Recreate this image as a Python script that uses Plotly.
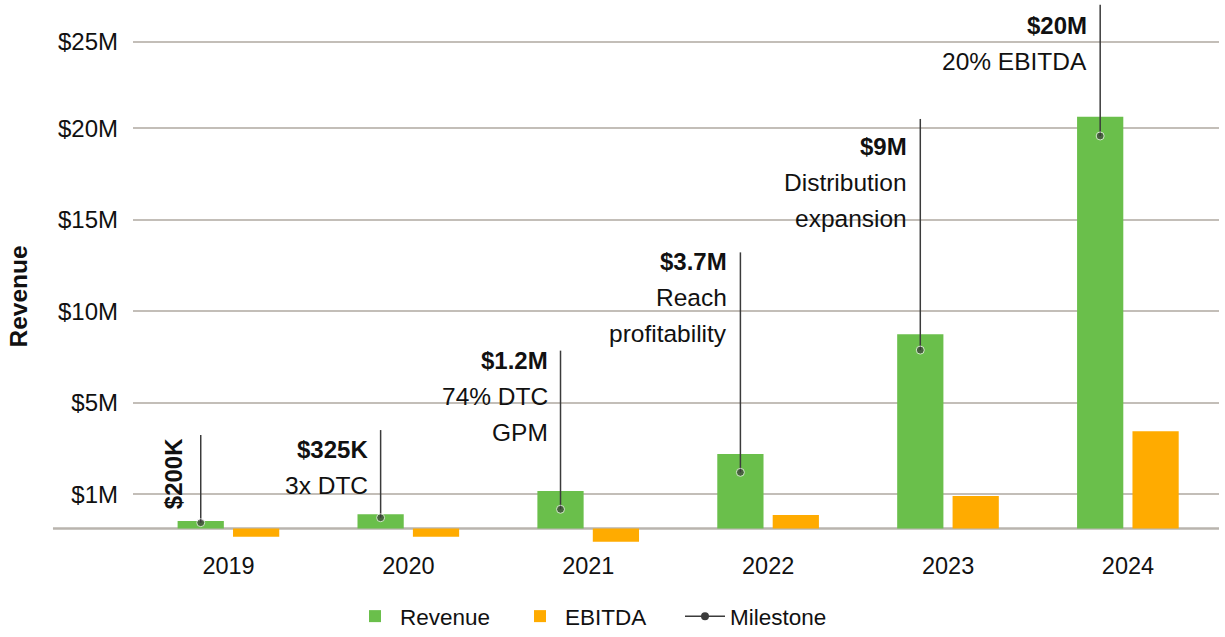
import plotly.graph_objects as go

# ---------------- data ----------------
years = [2019, 2020, 2021, 2022, 2023, 2024]
revenue = [0.41, 0.78, 2.05, 4.07, 10.61, 22.5]          # $M (bar heights)
ebitda = [-0.45, -0.45, -0.72, 0.74, 1.78, 5.31]          # $M
milestone_dot = [0.32, 0.59, 1.05, 3.07, 9.75, 21.45]     # $M (dot position)
milestone_top = [5.11, 5.38, 9.72, 15.09, 22.38, 28.62]   # $M (top of stem)
milestone_value = ["$200K", "$325K", "$1.2M", "$3.7M", "$9M", "$20M"]
milestone_text = [[], ["3x DTC"], ["74% DTC", "GPM"], ["Reach", "profitability"],
                  ["Distribution", "expansion"], ["20% EBITDA"]]
label_top = [2.98, 4.33, 9.17, 14.58, 20.86, 27.51]       # $M, centre of first label line
tick_vals = [1.86, 6.86, 11.86, 16.86, 21.87, 26.6]
tick_text = ["$1M", "$5M", "$10M", "$15M", "$20M", "$25M"]

# ---------------- style ----------------
GREEN = "#6abf4b"
ORANGE = "#ffab00"
STEM = "#3b3b3b"
GRID = "#c3beb8"
FONT = "Liberation Sans, Arial, Helvetica, sans-serif"
BAR_W = 0.257
REV_OFF = -0.283
EB_OFF = 0.025
LINE_PX = 36

stem_x = [y + REV_OFF + BAR_W / 2 for y in years]

fig = go.Figure()
fig.add_trace(go.Bar(x=years, y=revenue, name="Revenue", marker_color=GREEN,
                     width=BAR_W, offset=REV_OFF, marker_line_width=0))
fig.add_trace(go.Bar(x=years, y=ebitda, name="EBITDA", marker_color=ORANGE,
                     width=BAR_W, offset=EB_OFF, marker_line_width=0))

sx, sy, ss = [], [], []
for x, d, t in zip(stem_x, milestone_dot, milestone_top):
    sx += [x, x, None]
    sy += [d, t, None]
    ss += [8, 0, 0]
fig.add_trace(go.Scatter(x=sx, y=sy, mode="lines+markers", name="Milestone",
                         line=dict(color=STEM, width=1.5),
                         marker=dict(color=STEM, size=ss),
                         connectgaps=False, hoverinfo="skip", showlegend=False))
# legend handle for the milestone stems
fig.add_trace(go.Scatter(x=[None], y=[None], mode="lines+markers", name="Milestone",
                         line=dict(color=STEM, width=1.5),
                         marker=dict(color=STEM, size=8)))

annotations = []
for i, (x, val, lines, ly) in enumerate(zip(stem_x, milestone_value, milestone_text, label_top)):
    if i == 0:
        annotations.append(dict(x=x, y=ly, xref="x", yref="y", text="<b>" + val + "</b>",
                                textangle=-90, xanchor="right", yanchor="middle",
                                xshift=-11, showarrow=False,
                                font=dict(size=24, color="#111", family=FONT)))
        continue
    annotations.append(dict(x=x, y=ly, xref="x", yref="y", text="<b>" + val + "</b>",
                            xanchor="right", yanchor="middle", xshift=-11, showarrow=False,
                            font=dict(size=24, color="#111", family=FONT)))
    for j, ln in enumerate(lines):
        annotations.append(dict(x=x, y=ly, xref="x", yref="y", text=ln,
                                xanchor="right", yanchor="middle", xshift=-11,
                                yshift=-LINE_PX * (j + 1), showarrow=False,
                                font=dict(size=24.5, color="#111", family=FONT)))

annotations.append(dict(x=-0.1052, y=0.4556, xref="paper", yref="paper",
                        text="<b>Revenue</b>", textangle=-90, showarrow=False,
                        xanchor="center", yanchor="middle",
                        font=dict(size=24.5, color="#111", family=FONT)))

fig.update_layout(
    width=1225, height=637,
    margin=dict(l=133, r=6, t=0, b=92, autoexpand=False),
    paper_bgcolor="white", plot_bgcolor="white",
    barmode="overlay",
    font=dict(family=FONT, size=22, color="#111"),
    showlegend=True,
    legend=dict(orientation="h", xref="container", yref="container",
                x=350 / 1225, xanchor="left", y=(637 - 595) / 637, yanchor="top",
                font=dict(size=22.5, family=FONT, color="#111"), itemwidth=40,
                entrywidth=110, entrywidthmode="pixels",
                traceorder="normal"),
    annotations=annotations,
    shapes=[dict(type="line", xref="paper", yref="y", x0=-0.0737, x1=1, y0=0, y1=0,
                 line=dict(color="#b9b4ae", width=2.5), layer="below")],
)
fig.update_xaxes(range=[2018.469, 2024.506], tickvals=years, ticktext=[str(y) for y in years],
                 showgrid=False, zeroline=False, showline=False, ticks="",
                 ticklabelstandoff=4, tickfont=dict(size=23.5, family=FONT, color="#111"))
fig.update_yaxes(range=[-0.90, 28.88], tickvals=tick_vals, ticktext=tick_text,
                 showgrid=True, gridcolor=GRID, gridwidth=1.5, zeroline=False,
                 showline=False, ticks="", ticklabelstandoff=14,
                 tickfont=dict(size=24, family=FONT, color="#111"))

fig.write_html("out.html")
